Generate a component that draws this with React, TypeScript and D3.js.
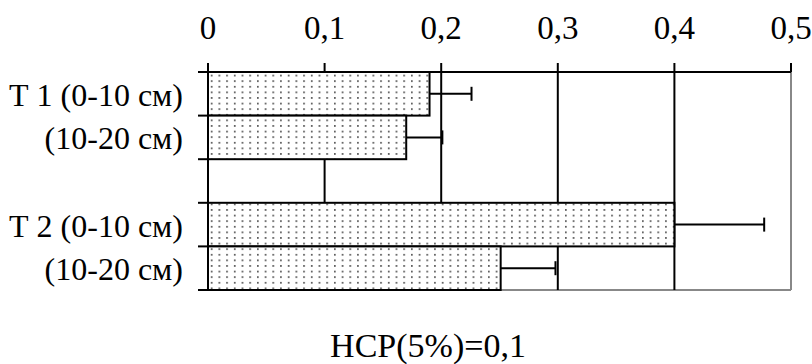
import React from "react";
import * as d3 from "d3";

// rows of the chart, top to bottom ("" is the empty gap row)
const rowLabels = ["Т 1 (0-10 см)", "(10-20 см)", "", "Т 2 (0-10 см)", "(10-20 см)"];
const values = [0.19, 0.17, null, 0.4, 0.251];
const errors = [0.036, 0.031, null, 0.077, 0.047];
const xTicks = [0, 0.1, 0.2, 0.3, 0.4, 0.5];
const note = "НСР(5%)=0,1";

const width = 812;
const height = 364;
// bare list with a monospace tail: the only form that kept Cyrillic in the serif face
const font = "Liberation Serif, monospace";

const App = () => {
  const x = d3.scaleLinear().domain([0, 0.5]).range([208, 791]);
  const y = d3
    .scaleBand<number>()
    .domain(rowLabels.map((d, i) => i))
    .range([72, 290])
    .paddingInner(0);

  const fmt = (v: number) => (v === 0 ? "0" : d3.format(".1f")(v).replace(".", ","));
  const bounds = rowLabels.map((d, i) => y(i)).concat([290]);

  return (
    <svg
      width={width}
      height={height}
      style={{ position: "absolute", left: 0, top: 0, background: "#fff" }}
    >
      <defs>
        <pattern id="dots" width={7.7} height={5.6} patternUnits="userSpaceOnUse">
          <rect width={7.7} height={5.6} fill="#fff" />
          <rect x={3} y={2} width={1.5} height={1.5} fill="#222" />
        </pattern>
      </defs>

      {/* plot frame (gray right / bottom) */}
      <line x1={x(0.5)} x2={x(0.5)} y1={72} y2={290} stroke="#888" strokeWidth={2} />
      <line x1={x(0)} x2={x(0.5)} y1={290} y2={290} stroke="#888" strokeWidth={2} />

      {/* grid lines */}
      {xTicks.slice(1, -1).map((t) => (
        <line key={t} x1={x(t)} x2={x(t)} y1={72} y2={290} stroke="#000" strokeWidth={2} />
      ))}

      {/* bars */}
      {values.map((v, i) =>
        v == null ? null : (
          <rect
            key={i}
            x={x(0)}
            y={y(i)}
            width={x(v) - x(0)}
            height={y.bandwidth()}
            fill="url(#dots)"
            stroke="#000"
            strokeWidth={2}
          />
        )
      )}

      {/* error bars */}
      {values.map((v, i) => {
        if (v == null) return null;
        const cy = (y(i) as number) + y.bandwidth() / 2;
        const x2 = x(v + (errors[i] as number));
        return (
          <g key={i} stroke="#000" strokeWidth={2}>
            <line x1={x(v)} x2={x2} y1={cy} y2={cy} />
            <line x1={x2} x2={x2} y1={cy - 7} y2={cy + 7} />
          </g>
        );
      })}

      {/* top axis */}
      <line x1={198} x2={x(0.5)} y1={72} y2={72} stroke="#000" strokeWidth={2} />
      {xTicks.map((t) => (
        <g key={t}>
          <line x1={x(t)} x2={x(t)} y1={63} y2={72} stroke="#000" strokeWidth={2} />
          <text
            x={x(t)}
            y={39}
            textAnchor="middle"
            fontFamily={font}
            fontSize={33}
            fill="#000"
          >
            {fmt(t)}
          </text>
        </g>
      ))}

      {/* left axis */}
      <line x1={x(0)} x2={x(0)} y1={63} y2={290} stroke="#000" strokeWidth={2} />
      {bounds.map((b, i) => (
        <line key={i} x1={198} x2={x(0)} y1={b} y2={b} stroke="#000" strokeWidth={2} />
      ))}
      {rowLabels.map((d, i) => (
        <text
          key={i}
          x={183}
          y={(y(i) as number) + y.bandwidth() / 2 + 12}
          textAnchor="end"
          fontFamily={font}
          fontSize={32}
          fill="#000"
        >
          {d}
        </text>
      ))}

      <text x={428} y={357} textAnchor="middle" fontFamily={font} fontSize={34} fill="#000">
        {note}
      </text>
    </svg>
  );
};

export default App;
